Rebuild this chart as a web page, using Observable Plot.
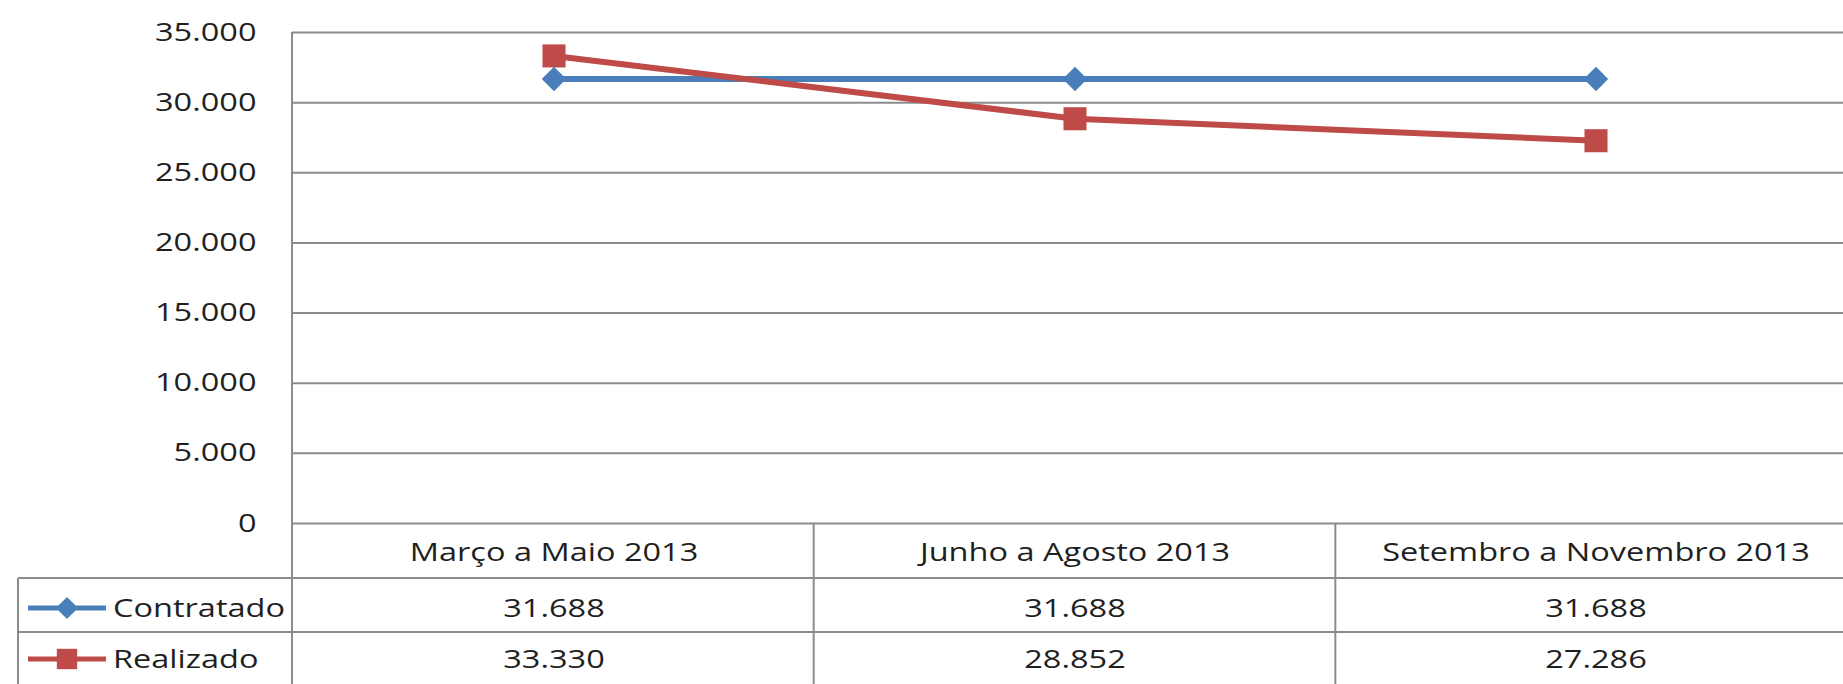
<!DOCTYPE html>
<html><head><meta charset="utf-8">
<script src="https://cdn.jsdelivr.net/npm/d3@7"></script>
<script src="https://cdn.jsdelivr.net/npm/@observablehq/plot@0.6"></script>
<style>html,body{margin:0;padding:0;background:#fff;overflow:hidden}</style>
</head><body><div id="chart"></div>
<script>
// ---- data ----
const categories = ["Março a Maio 2013", "Junho a Agosto 2013", "Setembro a Novembro 2013"];
const seriesNames = ["Contratado", "Realizado"];
const contratado = [31688, 31688, 31688];
const realizado = [33330, 28852, 27286];
const yTicks = [0, 5000, 10000, 15000, 20000, 25000, 30000, 35000];
const seriesColors = ["#4A7EBB", "#BE4B48"];
const seriesSymbols = ["diamond2", "square"];

// ---- layout ----
const W = 1843, H = 684;
const ML = 292, MT = 32, MB = 161;
const X0 = 292, X1 = 1857;        // plot area (right side cropped like the reference)
const GRID = "#8c8c8c";
const TEXT = "#1f1f1f";
const rowCenter = [29, 85, 136];   // header, row1, row2 centres below y(0)
const rowLines = [55, 109];
const tableLeft = 18;

const fmt = v => d3.format(",")(v).replace(/,/g, ".");
const seriesValues = [contratado, realizado];
const data = seriesNames.flatMap((name, s) =>
  categories.map((c, i) => ({series: name, cat: c, value: seriesValues[s][i]})));

function tableMark(index, scales) {
  const g = d3.create("svg:g");
  const y0 = scales.y(0);
  const n = categories.length;
  const bw = (X1 - X0) / n;
  const ln = (x1, y1, x2, y2) => g.append("line")
    .attr("x1", x1).attr("y1", y1).attr("x2", x2).attr("y2", y2)
    .attr("stroke", GRID).attr("stroke-width", 2);
  // vertical axis line
  ln(ML, MT, ML, H);
  // column dividers of the table
  for (let i = 1; i <= n; i++) ln(X0 + i * bw, y0, X0 + i * bw, H);
  // row lines
  rowLines.forEach(o => ln(tableLeft, y0 + o, W, y0 + o));
  // left border of the legend column
  ln(tableLeft, y0 + rowLines[0], tableLeft, H);
  // legend swatches and names
  seriesNames.forEach((name, s) => {
    const cy = y0 + rowCenter[s + 1];
    g.append("line").attr("x1", 28).attr("x2", 106).attr("y1", cy).attr("y2", cy)
      .attr("stroke", seriesColors[s]).attr("stroke-width", 5);
    const type = s === 0 ? d3.symbolDiamond2 : d3.symbolSquare;
    const r = s === 0 ? 10 : 11.5;
    g.append("path").attr("transform", `translate(67,${cy})`)
      .attr("d", d3.symbol(type, r * r * Math.PI)())
      .attr("fill", seriesColors[s]);
    g.append("text").attr("x", 113).attr("y", cy).attr("dy", "0.35em")
      .attr("text-anchor", "start").attr("fill", TEXT).text(name);
  });
  return g.node();
}

const marks = [
  Plot.ruleY(yTicks, {stroke: GRID, strokeWidth: 2}),
  tableMark,
  Plot.text(categories, {x: d => d, y: () => 0, dy: rowCenter[0], fill: TEXT}),
];
seriesNames.forEach((name, s) => {
  const sub = data.filter(d => d.series === name);
  marks.push(Plot.text(sub, {x: "cat", y: () => 0, dy: rowCenter[s + 1], text: d => fmt(d.value), fill: TEXT}));
});
seriesNames.forEach((name, s) => {
  const sub = data.filter(d => d.series === name);
  marks.push(Plot.line(sub, {x: "cat", y: "value", stroke: seriesColors[s], strokeWidth: 6}));
  marks.push(Plot.dot(sub, {x: "cat", y: "value", symbol: () => seriesSymbols[s], fill: seriesColors[s], stroke: "none", r: s === 0 ? 11 : 13}));
});

const chart = Plot.plot({
  width: W, height: H,
  marginLeft: ML, marginTop: MT, marginBottom: MB, marginRight: 0,
  style: {fontFamily: "'Open Sans', sans-serif", fontSize: "25px", color: TEXT, background: "#fff"},
  x: {type: "band", domain: categories, range: [X0, X1], padding: 0, axis: null},
  y: {domain: [0, 35000], range: [H - MB, MT], ticks: 7, tickSize: 0, tickPadding: 36, tickFormat: fmt, label: null},
  symbol: {type: "identity"},
  marks
});
document.getElementById("chart").append(chart);
// emulate the horizontally stretched rendering of the original
chart.querySelectorAll("text").forEach(t => {
  const L = t.getComputedTextLength();
  if (L > 0) { t.setAttribute("textLength", (L * 1.3).toFixed(1)); t.setAttribute("lengthAdjust", "spacingAndGlyphs"); }
});
</script>
</body></html>
